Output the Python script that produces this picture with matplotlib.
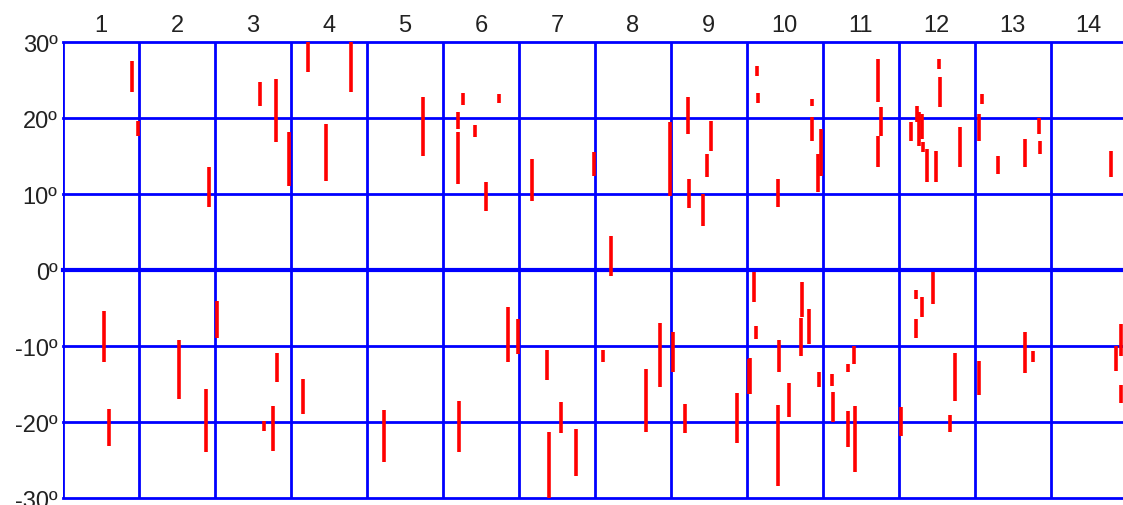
import matplotlib.pyplot as plt

# column numbers shown on top
columns = list(range(1, 15))
lat_ticks = [-30, -20, -10, 0, 10, 20, 30]

# red segments: x position (in column units), latitude from, latitude to
seg_x = [0.91, 0.99, 1.92, 2.59, 2.80, 2.97, 3.22, 3.79, 3.46,
         4.74, 5.26, 5.20, 5.20, 5.42, 5.57, 5.74, 6.17, 6.99, 7.21, 7.99,
         8.22, 8.24, 8.53, 8.47, 8.42,
         9.13, 9.14, 9.41, 9.86, 9.86, 9.97, 9.93, 10.72, 10.76, 10.72,
         11.53, 11.54, 11.24, 11.16, 11.26, 11.30, 11.32, 11.37, 11.49, 11.80,
         12.09, 12.05, 12.30, 12.66, 12.84, 12.86, 13.79,
         0.54, 0.61, 1.53, 1.88, 2.03, 2.82, 2.76, 2.64, 3.16,
         4.22, 5.21, 5.86, 5.99, 6.37, 6.55, 6.39, 6.75, 7.11, 7.67, 7.86,
         8.03, 8.18, 8.87, 9.03,
         9.09, 9.12, 9.04, 9.42, 9.41, 9.55, 9.72, 9.71, 9.82, 9.95,
         10.12, 10.13, 10.33, 10.42, 10.41, 10.33, 11.03, 11.22, 11.30, 11.22,
         11.45, 11.74, 11.67, 12.05, 12.66, 12.76, 13.86, 13.93, 13.93]
seg_lo = [23.4, 17.6, 8.3, 21.6, 16.8, 11.0, 26.0, 23.4, 11.7,
          15.0, 21.7, 18.6, 11.3, 17.5, 7.8, 22.0, 9.1, 12.4, -0.8, 9.7,
          17.9, 8.2, 15.7, 12.2, 5.8,
          25.5, 22.0, 8.3, 21.6, 17.0, 12.4, 10.3, 22.1, 17.6, 13.6,
          26.4, 21.4, 19.5, 17.0, 16.3, 17.2, 15.5, 11.6, 11.6, 13.6,
          21.8, 17.0, 12.6, 13.6, 17.9, 15.3, 12.2,
          -12.1, -23.2, -17.0, -23.9, -8.9, -14.7, -23.8, -21.2, -18.9,
          -25.3, -23.9, -12.1, -11.1, -14.5, -21.4, -30.8, -27.1, -12.1, -21.3, -15.4,
          -13.4, -21.4, -22.8, -16.3,
          -4.2, -9.1, -16.3, -13.4, -28.4, -19.3, -6.2, -11.3, -9.7, -15.4,
          -15.3, -20.0, -23.3, -26.6, -12.4, -13.4, -21.8, -3.8, -6.2, -8.9,
          -4.5, -17.2, -21.3, -16.4, -13.6, -12.1, -13.3, -11.3, -17.5]
seg_hi = [27.5, 19.6, 13.5, 24.7, 25.1, 18.1, 30.0, 30.0, 19.2,
          22.8, 23.3, 20.8, 18.1, 19.1, 11.6, 23.2, 14.6, 15.5, 4.5, 19.5,
          22.8, 12.0, 19.6, 15.3, 10.0,
          26.8, 23.3, 12.0, 22.5, 20.1, 18.6, 15.3, 27.8, 21.4, 17.6,
          27.8, 25.4, 21.6, 19.5, 20.8, 20.5, 16.8, 15.9, 15.7, 18.8,
          23.2, 20.5, 15.0, 17.2, 20.0, 17.0, 15.7,
          -5.4, -18.3, -9.2, -15.7, -4.1, -10.9, -17.9, -19.9, -14.3,
          -18.4, -17.2, -4.9, -6.4, -10.5, -17.4, -21.3, -20.9, -10.5, -13.0, -7.0,
          -8.2, -17.6, -16.2, -11.7,
          -0.3, -7.4, -11.6, -9.2, -17.8, -14.9, -1.6, -6.3, -5.1, -13.4,
          -13.7, -16.1, -18.6, -17.9, -10.0, -12.4, -18.0, -2.6, -3.6, -6.4,
          -0.3, -10.9, -19.1, -12.0, -8.2, -10.7, -10.0, -7.1, -15.1]

fig = plt.figure(figsize=(11.23, 5.06), dpi=100)
ax = fig.add_axes([0.0561, 0.0138, 0.9439, 0.9012])
ax.set_xlim(0, 13.95)
ax.set_ylim(-30, 30)

# blue grid
for v in lat_ticks:
    ax.axhline(v, color="#0000ff", lw=3 if v == 0 else 2, zorder=1, clip_on=False)
for c in range(0, 15):
    ax.axvline(c, color="#0000ff", lw=2, zorder=1)

ax.vlines(seg_x, seg_lo, seg_hi, color="#ff0000", lw=2.6, zorder=2)

for s in ax.spines.values():
    s.set_visible(False)

ax.set_xticks([c - 0.5 for c in columns])
ax.set_xticklabels([str(c) for c in columns])
ax.xaxis.tick_top()
ax.set_yticks(lat_ticks)
ax.set_yticklabels([f"{v}º" for v in lat_ticks])
ax.tick_params(length=0, labelsize=17, colors="#222222", pad=4)
for lbl in ax.get_xticklabels() + ax.get_yticklabels():
    lbl.set_family("Liberation Sans")

fig.savefig("out.png", dpi=100)
